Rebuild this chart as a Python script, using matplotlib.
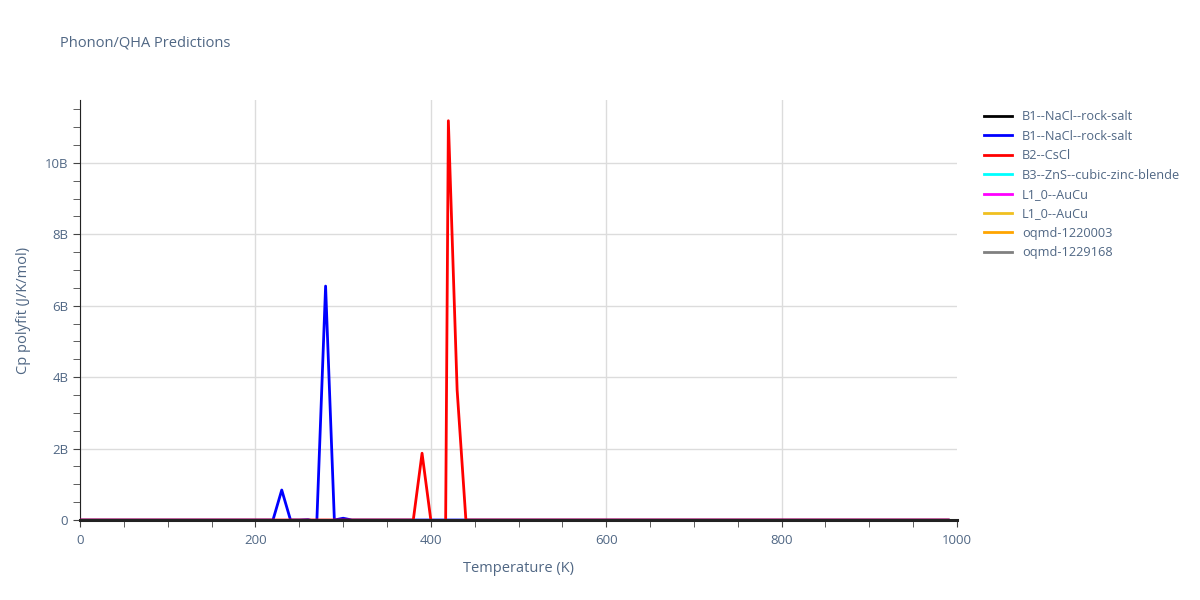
import matplotlib
matplotlib.use('Agg')
import matplotlib.pyplot as plt
import matplotlib.ticker as ticker
import numpy as np

plt.rcParams['font.family'] = ['Open Sans', 'DejaVu Sans']

# temperatures 0..990 K, step 10
T = list(range(0, 1000, 10))

names = ['B1--NaCl--rock-salt', 'B1--NaCl--rock-salt', 'B2--CsCl',
         'B3--ZnS--cubic-zinc-blende', 'L1_0--AuCu', 'L1_0--AuCu',
         'oqmd-1220003', 'oqmd-1229168']
colors = ['black', 'blue', 'red', 'cyan', 'magenta', '#f0c020', 'orange', 'gray']

# values (J/K/mol), nonzero points only
blue_pts = {230: 0.84e9, 260: 0.01e9, 270: -0.05e9, 280: 6.55e9, 300: 0.05e9}
red_pts = {390: 1.87e9, 410: -25e9, 420: 11.18e9, 430: 3.64e9}

series = []
for i in range(len(names)):
    series.append([0.0] * len(T))
for t, v in blue_pts.items():
    series[1][T.index(t)] = v
for t, v in red_pts.items():
    series[2][T.index(t)] = v

fig = plt.figure(figsize=(12, 6), dpi=100)
ax = fig.add_axes([0.0667, 0.1333, 0.7308, 0.7])

draw_order = [0, 3, 4, 5, 6, 7, 1, 2]
handles = [None] * len(names)
for i in draw_order:
    z = 3 if i in (1, 2) else 2
    handles[i], = ax.plot(T, series[i], color=colors[i], lw=2, label=names[i], zorder=z)

ax.set_xlim(0, 1000)
ax.set_ylim(0, 11.76e9)
ax.xaxis.set_major_locator(ticker.FixedLocator([0, 200, 400, 600, 800, 1000]))
ax.xaxis.set_minor_locator(ticker.MultipleLocator(50))
ax.yaxis.set_major_locator(ticker.MultipleLocator(2e9))
ax.yaxis.set_minor_locator(ticker.MultipleLocator(0.5e9))
ax.yaxis.set_major_formatter(ticker.FuncFormatter(lambda v, p: '0' if v == 0 else '%dB' % round(v / 1e9)))
ax.grid(True, which='major', color='#dcdcdc', lw=1)
ax.get_xgridlines()[-1].set_visible(False)
ax.set_axisbelow(True)
for s in ['top', 'right']:
    ax.spines[s].set_visible(False)
ax.spines['left'].set_color('#222222')
ax.spines['bottom'].set_color('#222222')
ax.spines['bottom'].set_linewidth(2.2)
ax.spines['bottom'].set_zorder(5)
ax.tick_params(which='both', colors='#444444', labelcolor='#506784', labelsize=9.5)
ax.tick_params(which='major', length=5)
ax.tick_params(which='minor', length=5)
ax.tick_params(axis='x', pad=5)

ax.set_xlabel('Temperature (K)', color='#506784', fontsize=10.5, labelpad=10)
ax.set_ylabel('Cp polyfit (J/K/mol)', color='#506784', fontsize=10.5, labelpad=10)
fig.text(0.05, 0.922, 'Phonon/QHA Predictions', color='#506784', fontsize=10.5)

fig.legend(handles, names, loc='upper left', bbox_to_anchor=(0.81, 0.835),
           frameon=False, fontsize=9.2, handlelength=2.2, labelspacing=0.5,
           labelcolor='#506784')

fig.savefig('out.png', dpi=100)
